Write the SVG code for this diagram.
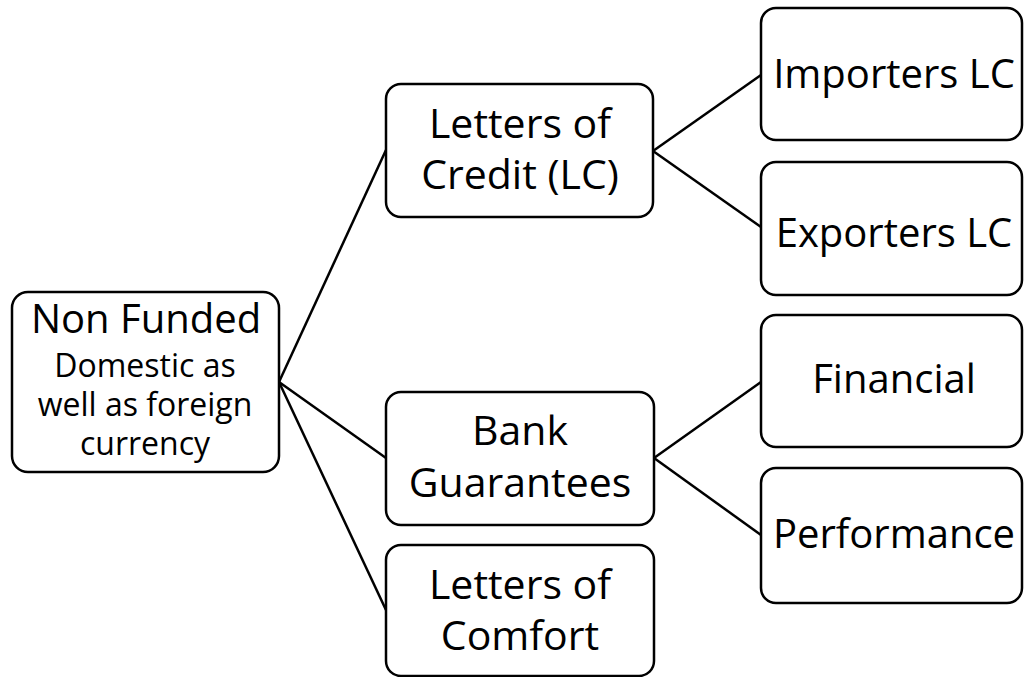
<svg xmlns="http://www.w3.org/2000/svg" width="1024" height="677" viewBox="0 0 1024 677">
<style>
.box{fill:#ffffff;stroke:#000000;stroke-width:2.5}
.conn{stroke:#000000;stroke-width:2.5;fill:none}
text{font-family:"Open Sans","Noto Sans",sans-serif;fill:#000000;text-anchor:middle}
.big{font-size:41px}
.rt{font-size:40px}
.sm{font-size:32px}
</style>
<rect width="1024" height="677" fill="#ffffff"/>
<g id="connectors">
<line class="conn" x1="279" y1="382" x2="386" y2="150"/>
<line class="conn" x1="279" y1="382" x2="386" y2="458"/>
<line class="conn" x1="279" y1="382" x2="386" y2="610"/>
<line class="conn" x1="653" y1="151" x2="761" y2="75"/>
<line class="conn" x1="653" y1="151" x2="761" y2="227"/>
<line class="conn" x1="654" y1="458" x2="761" y2="382"/>
<line class="conn" x1="654" y1="458" x2="761" y2="535"/>
</g>
<g id="root">
<rect class="box" x="12" y="292" width="267" height="180" rx="16"/>
<text class="rt" x="146" y="333">Non Funded</text>
<text class="sm" x="145" y="377">Domestic as</text>
<text class="sm" x="145" y="416">well as foreign</text>
<text class="sm" x="145" y="455">currency</text>
</g>
<g id="lc">
<rect class="box" x="386" y="84" width="267" height="133" rx="15"/>
<text class="big" x="520" y="138">Letters of</text>
<text class="big" x="520" y="189">Credit (LC)</text>
</g>
<g id="bg">
<rect class="box" x="386" y="392" width="268" height="133" rx="15"/>
<text class="big" x="520" y="445">Bank</text>
<text class="big" x="520" y="497">Guarantees</text>
</g>
<g id="loc">
<rect class="box" x="386" y="545" width="268" height="131" rx="15"/>
<text class="big" x="520" y="599">Letters of</text>
<text class="big" x="520" y="650">Comfort</text>
</g>
<g id="importers">
<rect class="box" x="761" y="8" width="261" height="132" rx="15"/>
<text class="rt" x="894" y="88">Importers LC</text>
</g>
<g id="exporters">
<rect class="box" x="761" y="162" width="261" height="133" rx="15"/>
<text class="rt" x="894" y="247">Exporters LC</text>
</g>
<g id="financial">
<rect class="box" x="761" y="315" width="261" height="132" rx="15"/>
<text class="rt" x="894" y="393">Financial</text>
</g>
<g id="performance">
<rect class="box" x="761" y="468" width="261" height="135" rx="15"/>
<text class="rt" x="894" y="548">Performance</text>
</g>
</svg>
